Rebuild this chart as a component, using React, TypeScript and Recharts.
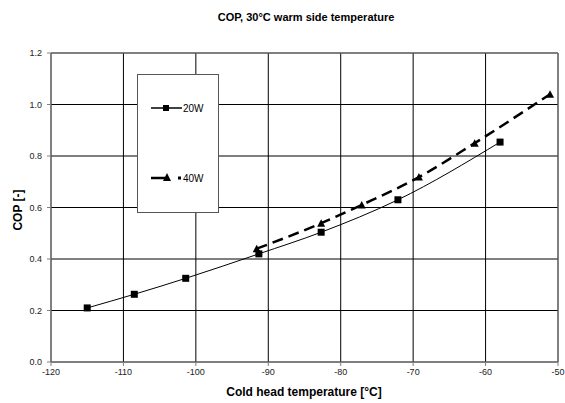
import { CartesianGrid, Line, LineChart, ReferenceLine, XAxis, YAxis } from 'recharts'

const temps20W = [-115.0, -108.5, -101.4, -91.3, -82.7, -72.1, -58.0]
const cop20W = [0.21, 0.263, 0.325, 0.42, 0.504, 0.63, 0.854]
const temps40W = [-91.6, -82.7, -77.1, -69.2, -61.5, -51.1]
const cop40W = [0.44, 0.539, 0.61, 0.718, 0.85, 1.04]

const xTicks = [-120, -110, -100, -90, -80, -70, -60, -50]
const yTicks = [0, 0.2, 0.4, 0.6, 0.8, 1.0, 1.2]

const data20 = temps20W.map((t, i) => ({ t, cop: cop20W[i] }))
const data40 = temps40W.map((t, i) => ({ t, cop: cop40W[i] }))

const FONT = '"Liberation Sans", Arial, sans-serif'
const GRAY = '#808080'

const SquareDot = (p: any) => (
  <rect key={`s${p.index}`} x={p.cx - 3.5} y={p.cy - 3.5} width={7} height={7} fill="#000" />
)

const TriangleDot = (p: any) => (
  <polygon
    key={`t${p.index}`}
    points={`${p.cx - 4},${p.cy + 3.5} ${p.cx + 4},${p.cy + 3.5} ${p.cx},${p.cy - 4}`}
    fill="#000"
  />
)

export default function App() {
  return (
    <div style={{ position: 'fixed', left: 0, top: 0, width: 565, height: 403, background: '#fff' }}>
      <LineChart width={565} height={403} margin={{ top: 53, right: 7, left: 0, bottom: 0 }}>
        <CartesianGrid stroke="#000" strokeWidth={1} />
        <XAxis
          type="number"
          dataKey="t"
          domain={[-120, -50]}
          ticks={xTicks}
          height={41}
          stroke={GRAY}
          tickSize={4}
          tickMargin={3}
          tick={{ fontSize: 9, fill: '#222', fontFamily: FONT }}
        />
        <YAxis
          type="number"
          dataKey="cop"
          domain={[0, 1.2]}
          ticks={yTicks}
          width={51}
          stroke={GRAY}
          tickSize={4}
          tickMargin={5}
          tickFormatter={(v: number) => v.toFixed(1)}
          tick={{ fontSize: 9, fill: '#222', fontFamily: FONT }}
        />
        <ReferenceLine y={1.2} stroke={GRAY} />
        <ReferenceLine x={-50} stroke={GRAY} />
        <Line
          data={data20}
          dataKey="cop"
          type="monotone"
          stroke="#000"
          strokeWidth={1}
          dot={SquareDot}
          activeDot={false}
          isAnimationActive={false}
        />
        <Line
          data={data40}
          dataKey="cop"
          type="monotone"
          stroke="#000"
          strokeWidth={2.5}
          strokeDasharray="11 6"
          dot={TriangleDot}
          activeDot={false}
          isAnimationActive={false}
        />
      </LineChart>

      {/* titles and legend box */}
      <svg
        width={565}
        height={403}
        style={{ position: 'absolute', left: 0, top: 0, pointerEvents: 'none' }}
        fontFamily={FONT}
      >
        <text x={306} y={21} textAnchor="middle" fontSize={11} fontWeight="bold">
          COP, 30°C warm side temperature
        </text>
        <text x={304} y={396} textAnchor="middle" fontSize={12} fontWeight="bold">
          Cold head temperature [°C]
        </text>
        <text
          x={0}
          y={0}
          transform="translate(22, 210) rotate(-90)"
          textAnchor="middle"
          fontSize={12}
          fontWeight="bold"
        >
          COP [-]
        </text>

        <rect x={137.5} y={74.5} width={81} height={138} fill="#fff" stroke="#555" />
        <line x1={151} y1={108} x2={182} y2={108} stroke="#000" strokeWidth={1.5} />
        <rect x={163} y={105} width={6} height={6} fill="#000" />
        <text x={183} y={112} fontSize={10}>20W</text>

        <line x1={151} y1={178} x2={166} y2={178} stroke="#000" strokeWidth={2.5} />
        <polygon points="163,181 171,181 167,173" fill="#000" />
        <rect x={178} y={176.5} width={3} height={3} fill="#000" />
        <text x={183} y={182} fontSize={10}>40W</text>
      </svg>
    </div>
  )
}
